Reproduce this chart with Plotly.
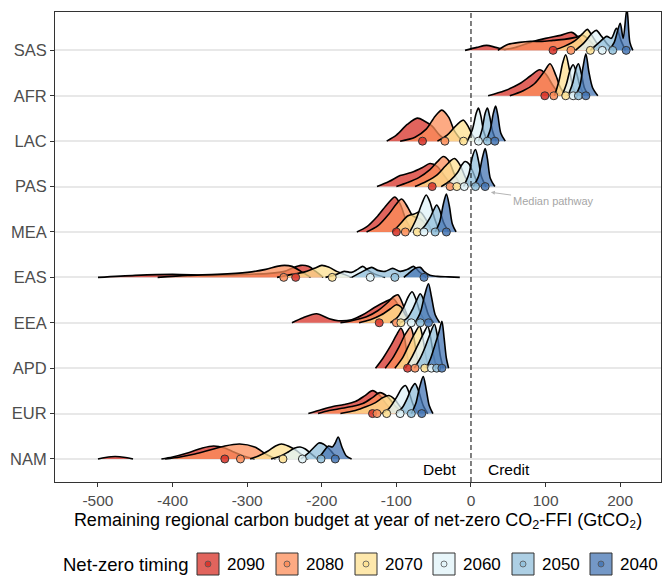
import plotly.graph_objects as go

# Regions listed top to bottom; net-zero timings in drawing order (back to front)
REGIONS = ["SAS", "AFR", "LAC", "PAS", "MEA", "EAS", "EEA", "APD", "EUR", "NAM"]
TIMINGS = ["2090", "2080", "2070", "2060", "2050", "2040"]
COLORS = ["#d73027", "#fc8d59", "#fee090", "#e0f3f8", "#91bfdb", "#4575b4"]
X_TICKS = [-500, -400, -300, -200, -100, 0, 100, 200]

# Density profiles per region: (budget knots in GtCO2, relative density) for each timing
SAS = [
    ([-8, 8, 21, 33, 45, 60, 80, 100, 120, 135, 145, 155], [0, 3, 5, 3, 1, 3, 8, 12, 15, 18, 12, 0]),
    ([36, 50, 65, 80, 95, 110, 125, 140, 150, 160, 170], [0, 6, 8, 9, 9, 10, 11, 13, 15, 9, 0]),
    ([110, 125, 140, 150, 156, 162, 170, 178], [0, 4, 10, 17, 21, 15, 6, 0]),
    ([140, 152, 162, 168, 175, 183, 192], [0, 8, 17, 20, 14, 6, 0]),
    ([160, 172, 182, 188, 195, 201, 207], [0, 8, 14, 12, 22, 10, 0]),
    ([185, 192, 200, 204, 209, 213, 217], [0, 8, 27, 12, 42, 8, 0]),
]
AFR = [
    ([23, 45, 65, 80, 92, 100, 110, 120], [0, 5, 12, 20, 26, 22, 10, 0]),
    ([52, 70, 85, 98, 106, 114, 120, 128], [0, 5, 12, 24, 32, 20, 8, 0]),
    ([112, 118, 123, 127, 132, 137, 143], [0, 15, 33, 41, 26, 8, 0]),
    ([122, 128, 133, 137, 141, 146, 152], [0, 12, 26, 31, 24, 10, 0]),
    ([130, 136, 141, 144, 148, 152, 158], [0, 12, 28, 32, 22, 8, 0]),
    ([140, 146, 150, 154, 158, 163, 170], [0, 10, 28, 42, 24, 8, 0]),
]
LAC = [
    ([-113, -100, -85, -72, -62, -52, -42, -32], [0, 6, 17, 23, 20, 15, 6, 0]),
    ([-95, -75, -60, -48, -39, -30, -22, -12], [0, 4, 12, 25, 31, 24, 10, 0]),
    ([-45, -32, -22, -15, -10, -4, 2, 8], [0, 6, 14, 19, 21, 15, 6, 0]),
    ([-5, 2, 7, 10, 13, 17, 22], [0, 12, 28, 33, 26, 10, 0]),
    ([10, 15, 19, 22, 25, 29, 34], [0, 12, 28, 33, 25, 10, 0]),
    ([20, 26, 30, 33, 36, 40, 46], [0, 12, 28, 35, 26, 8, 0]),
]
PAS = [
    ([-126, -110, -95, -80, -65, -55, -45, -35, -25], [0, 5, 11, 14, 19, 23, 20, 10, 0]),
    ([-100, -85, -70, -55, -45, -37, -30, -22, -12], [0, 4, 9, 17, 25, 30, 26, 12, 0]),
    ([-75, -60, -45, -35, -27, -22, -15, -8, 0], [0, 5, 12, 20, 26, 28, 22, 10, 0]),
    ([-40, -28, -18, -12, -8, -3, 3, 8, 14], [0, 6, 14, 22, 25, 23, 14, 5, 0]),
    ([-10, -3, 2, 6, 10, 14, 20], [0, 12, 30, 37, 26, 10, 0]),
    ([3, 10, 15, 19, 22, 26, 32], [0, 10, 28, 38, 28, 8, 0]),
]
MEA = [
    ([-153, -140, -125, -112, -102, -95, -87, -78], [0, 5, 16, 28, 35, 28, 12, 0]),
    ([-140, -125, -110, -100, -93, -85, -78, -68, -58, -50], [0, 6, 18, 28, 33, 25, 16, 13, 6, 0]),
    ([-105, -95, -85, -76, -68, -60, -52], [0, 8, 16, 18, 20, 12, 0]),
    ([-82, -74, -66, -60, -55, -49, -42], [0, 12, 28, 37, 30, 14, 0]),
    ([-70, -62, -55, -50, -46, -42, -37, -30], [0, 6, 14, 22, 27, 22, 10, 0]),
    ([-48, -42, -37, -33, -29, -25, -20], [0, 10, 28, 38, 26, 8, 0]),
]
EAS = [
    ([-500, -450, -400, -350, -300, -270, -250, -240, -228, -218, -208, -198], [0, 2, 3, 2, 3, 4, 6, 9, 12, 11, 6, 0]),
    ([-420, -380, -340, -300, -275, -260, -250, -240, -228, -215], [0, 2, 3, 5, 8, 11, 12, 11, 6, 0]),
    ([-260, -240, -225, -210, -200, -190, -180, -170, -160], [0, 3, 5, 9, 12, 10, 6, 3, 0]),
    ([-195, -180, -170, -160, -152, -145, -138, -128, -115], [0, 3, 6, 5, 8, 11, 7, 3, 0]),
    ([-160, -145, -133, -125, -115, -105, -95, -85, -77, -70, -60], [0, 6, 10, 7, 6, 9, 6, 8, 11, 6, 0]),
    ([-90, -82, -75, -68, -63, -55, -45, -30, -15], [0, 5, 9, 10, 6, 2, 1, 0.5, 0]),
]
EEA = [
    ([-240, -225, -207, -190, -178, -160, -145, -130, -115, -104, -95, -85], [0, 5, 9, 4, 2, 3, 8, 15, 21, 24, 14, 0]),
    ([-175, -160, -140, -125, -112, -104, -98, -90, -82], [0, 2, 6, 12, 20, 26, 28, 16, 0]),
    ([-150, -135, -120, -108, -100, -94, -88, -80], [0, 3, 8, 14, 18, 16, 8, 0]),
    ([-108, -98, -90, -84, -79, -74, -68, -60], [0, 6, 16, 26, 31, 24, 10, 0]),
    ([-95, -85, -78, -72, -68, -63, -57, -50], [0, 5, 14, 24, 29, 22, 8, 0]),
    ([-75, -68, -62, -57, -53, -48, -42], [0, 10, 28, 39, 26, 8, 0]),
]
APD = [
    ([-128, -118, -108, -100, -94, -90, -86, -82], [0, 10, 22, 33, 40, 34, 15, 0]),
    ([-115, -105, -96, -88, -81, -77, -73, -69], [0, 10, 22, 34, 41, 32, 14, 0]),
    ([-102, -92, -84, -76, -69, -65, -61, -57], [0, 10, 22, 34, 42, 32, 14, 0]),
    ([-88, -80, -72, -64, -58, -54, -50, -46], [0, 10, 22, 34, 42, 30, 12, 0]),
    ([-76, -68, -61, -55, -49, -45, -41, -37], [0, 10, 22, 34, 44, 32, 12, 0]),
    ([-60, -54, -48, -43, -39, -36, -33, -30], [0, 10, 24, 36, 47, 30, 10, 0]),
]
EUR = [
    ([-218, -200, -185, -170, -155, -142, -132, -122, -112, -100], [0, 4, 7, 9, 12, 18, 23, 18, 8, 0]),
    ([-205, -190, -175, -160, -145, -132, -122, -112, -102, -90], [0, 3, 5, 7, 10, 16, 21, 17, 8, 0]),
    ([-175, -155, -140, -128, -118, -110, -102, -94, -85], [0, 3, 7, 11, 16, 18, 14, 6, 0]),
    ([-120, -110, -100, -93, -88, -83, -77, -70], [0, 5, 16, 25, 28, 21, 8, 0]),
    ([-100, -92, -85, -80, -75, -70, -64, -58], [0, 6, 16, 25, 30, 22, 8, 0]),
    ([-80, -74, -69, -64, -60, -56, -51], [0, 10, 26, 37, 24, 8, 0]),
]
NAM = [
    ([-500, -490, -477, -463, -453, None, -415, -400, -380, -360, -345, -330, -318, -305, -290],
     [0, 1.5, 2.5, 1.5, 0, None, 0, 2, 6, 11, 13, 11, 7, 3, 0]),
    ([-410, -390, -370, -350, -330, -310, -290, -275, -262], [0, 2, 5, 9, 13, 15, 12, 5, 0]),
    ([-296, -285, -272, -262, -254, -245, -235, -226, -218], [0, 3, 8, 13, 15, 13, 9, 4, 0]),
    ([-268, -255, -245, -236, -229, -222, -214, -206], [0, 3, 7, 11, 12, 10, 5, 0]),
    ([-228, -218, -210, -204, -198, -190, -183, -176], [0, 6, 12, 16, 15, 10, 4, 0]),
    ([-205, -198, -191, -186, -182, -178, -173, -167, -160], [0, 7, 13, 12, 16, 22, 12, 3, 0]),
]

# Median pathway budget per region, by timing (2090 ... 2040)
SAS_MED = [110, 134, 160, 176, 190, 208]
AFR_MED = [99, 111, 127, 137, 144, 154]
LAC_MED = [-65, -35, -10, 10, 22, 32]
PAS_MED = [-52, -28, -19, -9, 6, 19]
MEA_MED = [-100, -88, -72, -63, -48, -33]
EAS_MED = [-235, -251, -186, -135, -102, -63]
EEA_MED = [-123, -100, -94, -80, -68, -57]
APD_MED = [-85, -75, -62, -53, -46, -39]
EUR_MED = [-132, -126, -113, -95, -80, -66]
NAM_MED = [-330, -309, -252, -226, -201, -182]

RIDGES = {
    "SAS": (SAS, SAS_MED), "AFR": (AFR, AFR_MED), "LAC": (LAC, LAC_MED),
    "PAS": (PAS, PAS_MED), "MEA": (MEA, MEA_MED), "EAS": (EAS, EAS_MED),
    "EEA": (EEA, EEA_MED), "APD": (APD, APD_MED), "EUR": (EUR, EUR_MED),
    "NAM": (NAM, NAM_MED),
}

DENSITY_TO_ROW = 1 / 45.4   # relative density -> fraction of row spacing
FILL_ALPHA = 0.75
FONT = "Liberation Sans, Arial, sans-serif"


def rgba(hex_color, alpha):
    h = hex_color.lstrip("#")
    r, g, b = int(h[0:2], 16), int(h[2:4], 16), int(h[4:6], 16)
    return f"rgba({r},{g},{b},{alpha})"


fig = go.Figure()
n = len(REGIONS)
base_of = {reg: n - i for i, reg in enumerate(REGIONS)}

# Ridges: upper rows first, so lower rows sit in front
for reg in REGIONS:
    base = base_of[reg]
    profiles, _ = RIDGES[reg]
    for (xs, hs), col in zip(profiles, COLORS):
        ys = [None if h is None else base + h * DENSITY_TO_ROW for h in hs]
        fig.add_trace(go.Scatter(
            x=xs, y=ys, mode="lines", fill="toself",
            fillcolor=rgba(col, FILL_ALPHA),
            line=dict(color="black", width=1.6, shape="spline", smoothing=0.85),
            hoverinfo="skip", showlegend=False,
        ))

# Median pathway points on each ridge baseline
for reg in REGIONS:
    base = base_of[reg]
    _, med = RIDGES[reg]
    fig.add_trace(go.Scatter(
        x=med, y=[base] * len(med), mode="markers",
        marker=dict(size=8, color=[rgba(c, 0.85) for c in COLORS],
                    line=dict(color="#333333", width=1)),
        hoverinfo="skip", showlegend=False,
    ))

# Zero line separating debt and credit
fig.add_shape(type="line", x0=0, x1=0, y0=0, y1=1, xref="x", yref="paper",
              line=dict(color="black", width=1, dash="5px,3px"), layer="above")

fig.add_annotation(x=-17, y=0.76, xref="x", yref="y", text="Debt", showarrow=False,
                   xanchor="right", yanchor="middle", font=dict(size=15.5, color="black", family=FONT))
fig.add_annotation(x=20, y=0.76, xref="x", yref="y", text="Credit", showarrow=False,
                   xanchor="left", yanchor="middle", font=dict(size=15.5, color="black", family=FONT))

fig.add_annotation(x=24, y=6.88, xref="x", yref="y", ax=110, ay=6.686, axref="x", ayref="y",
                   text="Median pathway", showarrow=True, arrowhead=2, arrowsize=0.8,
                   arrowwidth=1, arrowcolor="#b5b5b5", standoff=2,
                   font=dict(size=11, color="#a6a6a6", family=FONT))

# Legend drawn in paper space below the axis
L, W, B, H = 55, 606, 482, 470


def px_x(p):
    return (p - L) / W


def px_y(p):
    return (B - p) / H


fig.add_annotation(x=px_x(61), y=px_y(564), xref="paper", yref="paper", text="Net-zero timing",
                   showarrow=False, xanchor="left", yanchor="middle",
                   font=dict(size=18.5, color="black", family=FONT))
box_left = [197, 276, 355, 433, 512, 590]
for left, lab, col in zip(box_left, TIMINGS, COLORS):
    fig.add_shape(type="rect", xref="paper", yref="paper",
                  x0=px_x(left), x1=px_x(left + 22), y0=px_y(575), y1=px_y(553),
                  fillcolor=rgba(col, FILL_ALPHA), line=dict(color="#333333", width=1))
    cx, cy = left + 11, 564
    fig.add_shape(type="circle", xref="paper", yref="paper",
                  x0=px_x(cx - 3), x1=px_x(cx + 3), y0=px_y(cy + 3), y1=px_y(cy - 3),
                  fillcolor=rgba(col, 0.85), line=dict(color="#555555", width=0.8))
    fig.add_annotation(x=px_x(left + 28), y=px_y(564), xref="paper", yref="paper", text=lab,
                       showarrow=False, xanchor="left", yanchor="middle",
                       font=dict(size=17, color="black", family=FONT))

fig.update_layout(
    width=663, height=577,
    margin=dict(l=55, r=2, t=12, b=95),
    paper_bgcolor="white", plot_bgcolor="white",
    font=dict(family=FONT),
    showlegend=False,
    xaxis=dict(
        range=[-557.6, 254.7], tickvals=X_TICKS, ticktext=[str(v) for v in X_TICKS],
        showgrid=False, zeroline=False, showline=True, mirror=True,
        linecolor="#333333", linewidth=1, ticks="outside", ticklen=4, tickcolor="#333333",
        tickfont=dict(size=15.5, color="#4d4d4d", family=FONT),
        title=dict(text="Remaining regional carbon budget at year of net-zero CO<sub>2</sub>-FFI (GtCO₂)",
                   font=dict(size=18, color="black", family=FONT), standoff=5),
    ),
    yaxis=dict(
        range=[0.493, 10.845], tickvals=[base_of[r] for r in REGIONS], ticktext=REGIONS,
        showgrid=True, gridcolor="#e8e8e8", gridwidth=1.5, zeroline=False,
        showline=True, mirror=True, linecolor="#333333", linewidth=1,
        ticks="outside", ticklen=4, tickcolor="#333333",
        tickfont=dict(size=16.5, color="#4d4d4d", family=FONT),
    ),
)

fig.write_html("out.html")
